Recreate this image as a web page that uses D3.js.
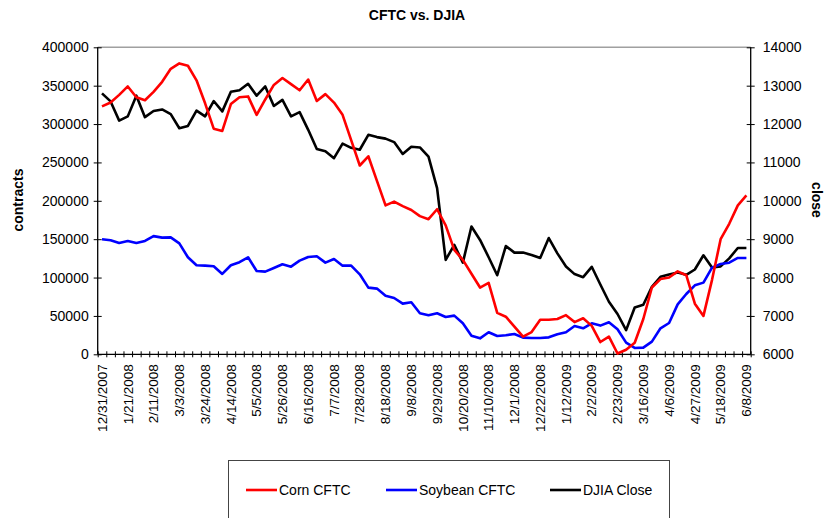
<!DOCTYPE html>
<html>
<head>
<meta charset="utf-8">
<script src="https://cdn.jsdelivr.net/npm/d3@7"></script>
<style>
  html, body { margin: 0; padding: 0; background: #fff; }
  svg { display: block; font-family: "Liberation Sans", Arial, sans-serif; }
</style>
</head>
<body>
<svg id="chart" width="827" height="518"></svg>
<script>
// ---- Data ----
const categories = [
  "12/31/2007","1/7/2008","1/14/2008","1/21/2008","1/28/2008","2/4/2008","2/11/2008","2/18/2008","2/25/2008",
  "3/3/2008","3/10/2008","3/17/2008","3/24/2008","3/31/2008","4/7/2008","4/14/2008","4/21/2008","4/28/2008",
  "5/5/2008","5/12/2008","5/19/2008","5/26/2008","6/2/2008","6/9/2008","6/16/2008","6/23/2008","6/30/2008",
  "7/7/2008","7/14/2008","7/21/2008","7/28/2008","8/4/2008","8/11/2008","8/18/2008","8/25/2008","9/1/2008",
  "9/8/2008","9/15/2008","9/22/2008","9/29/2008","10/6/2008","10/13/2008","10/20/2008","10/27/2008","11/3/2008",
  "11/10/2008","11/17/2008","11/24/2008","12/1/2008","12/8/2008","12/15/2008","12/22/2008","12/29/2008","1/5/2009",
  "1/12/2009","1/19/2009","1/26/2009","2/2/2009","2/9/2009","2/16/2009","2/23/2009","3/2/2009","3/9/2009",
  "3/16/2009","3/23/2009","3/30/2009","4/6/2009","4/13/2009","4/20/2009","4/27/2009","5/4/2009","5/11/2009",
  "5/18/2009","5/25/2009","6/1/2009","6/8/2009"
];

const xTickLabels = [
  "12/31/2007","1/21/2008","2/11/2008","3/3/2008","3/24/2008","4/14/2008","5/5/2008","5/26/2008","6/16/2008",
  "7/7/2008","7/28/2008","8/18/2008","9/8/2008","9/29/2008","10/20/2008","11/10/2008","12/1/2008","12/22/2008",
  "1/12/2009","2/2/2009","2/23/2009","3/16/2009","4/6/2009","4/27/2009","5/18/2009","6/8/2009"
];

const cornCFTC = [
  323000,328000,338000,349000,335000,331000,342000,355000,372000,379000,376000,357000,327000,294000,291000,326000,
  335000,336000,312000,332000,351000,360000,352000,344000,358000,330000,339000,328000,312000,279000,246000,258000,
  226000,194000,199000,193000,188000,180000,176000,189000,168000,136000,123000,105000,87000,93000,54000,49000,
  36000,23000,29000,45000,45000,46000,51000,42000,47000,37000,16000,23000,1000,6000,15000,46000,87000,98000,
  100000,108000,103000,66000,50000,97000,150000,170000,194000,207000
];

const soybeanCFTC = [
  150000,148500,145000,147700,145000,147700,154000,152000,152400,144600,126400,116000,115500,114700,104700,116000,
  120000,126400,108600,107700,112500,117300,114200,122000,126800,127700,119400,124200,115500,115500,104200,86900,
  85600,76400,73400,66000,67800,53400,50800,53400,48600,50400,40400,24300,20800,28700,23900,24800,26500,21700,
  21300,21300,22100,26100,28700,36900,33900,40400,37400,41700,32600,15200,8300,8700,16500,33900,40800,65100,
  78600,89900,93400,112900,117700,119400,125500,125500
];

const djiaClose = [
  12800,12590,12090,12200,12740,12180,12340,12380,12260,11890,11950,12350,12200,12600,12330,12840,
  12880,13050,12740,12980,12470,12630,12200,12310,11850,11350,11290,11110,11490,11380,11330,11720,
  11660,11620,11530,11220,11410,11390,11150,10330,8460,8850,8390,9330,8980,8530,8060,8820,
  8650,8650,8590,8510,9030,8630,8290,8090,8010,8280,7820,7370,7050,6630,7220,7290,7760,8020,
  8080,8130,8070,8210,8580,8260,8290,8500,8770,8770
];

const leftTicks = [0,50000,100000,150000,200000,250000,300000,350000,400000];
const rightTicks = [6000,7000,8000,9000,10000,11000,12000,13000,14000];

const seriesNames = ["Corn CFTC","Soybean CFTC","DJIA Close"];
const seriesColors = ["#FF0000","#0000FF","#000000"];

// ---- Layout ----
const svg = d3.select("#chart");
const X0 = 97.7, X1 = 750.7, YT = 47.3, YB = 354.3;

const x = d3.scaleBand().domain(categories).range([X0, X1]).padding(0);
const xIdx = d3.scaleLinear().domain([0, categories.length]).range([X0, X1]);
const yL = d3.scaleLinear().domain([0, 400000]).range([YB, YT]);
const yR = d3.scaleLinear().domain([6000, 14000]).range([YB, YT]);
const cx = c => x(c) + x.bandwidth() / 2;

// top border line (gray)
svg.append("line").attr("x1", X0).attr("x2", X1).attr("y1", YT).attr("y2", YT)
  .attr("stroke", "#a0a0a0").attr("stroke-width", 1.5);

// Left axis
const gL = svg.append("g").attr("transform", `translate(${X0},0)`)
  .call(d3.axisLeft(yL).tickValues(leftTicks).tickSize(4).tickPadding(6).tickFormat(d3.format("d")));
gL.selectAll(".tick line").attr("x1", -4).attr("x2", 4).attr("stroke", "#000");
gL.select(".domain").attr("stroke", "#000").attr("d", `M0,${YT}V${YB}`).attr("stroke-width", 1.3);
gL.selectAll("text").attr("font-size", 14).attr("fill", "#000").attr("x", -9)
  .attr("font-family", "'Liberation Sans', Arial, sans-serif");

// Right axis
const gR = svg.append("g").attr("transform", `translate(${X1},0)`)
  .call(d3.axisRight(yR).tickValues(rightTicks).tickSize(4).tickPadding(6).tickFormat(d3.format("d")));
gR.selectAll(".tick line").attr("x1", -4).attr("x2", 4).attr("stroke", "#000");
gR.select(".domain").attr("stroke", "#000").attr("d", `M0,${YT}V${YB}`).attr("stroke-width", 1.3);
gR.selectAll("text").attr("font-size", 14).attr("fill", "#000").attr("x", 12)
  .attr("font-family", "'Liberation Sans', Arial, sans-serif");

// Bottom axis: ticks between categories
const gB = svg.append("g").attr("transform", `translate(0,${YB})`)
  .call(d3.axisBottom(xIdx).tickValues(d3.range(categories.length + 1)).tickSize(3).tickFormat(""));
gB.selectAll(".tick line").attr("y1", -3).attr("y2", 3).attr("stroke", "#000");
gB.select(".domain").attr("stroke", "#000").attr("d", `M${X0},0H${X1}`).attr("stroke-width", 1.3);

// Bottom labels
const gBL = svg.append("g").attr("transform", `translate(0,${YB})`)
  .call(d3.axisBottom(x).tickValues(xTickLabels).tickSize(0).tickPadding(0));
gBL.select(".domain").remove();
gBL.selectAll("text")
  .attr("font-size", 13.5).attr("fill", "#000")
  .attr("font-family", "'Liberation Sans', Arial, sans-serif")
  .attr("text-anchor", "end")
  .attr("transform", "rotate(-90)")
  .attr("x", -10).attr("y", 0).attr("dy", "0.35em");

// Lines
const lineL = d3.line().x((d, i) => cx(categories[i])).y(d => yL(d));
const lineR = d3.line().x((d, i) => cx(categories[i])).y(d => yR(d));

svg.append("path").datum(djiaClose).attr("d", lineR).attr("fill", "none")
  .attr("stroke", seriesColors[2]).attr("stroke-width", 2.6).attr("stroke-linejoin", "round");
svg.append("path").datum(soybeanCFTC).attr("d", lineL).attr("fill", "none")
  .attr("stroke", seriesColors[1]).attr("stroke-width", 2.6).attr("stroke-linejoin", "round");
svg.append("path").datum(cornCFTC).attr("d", lineL).attr("fill", "none")
  .attr("stroke", seriesColors[0]).attr("stroke-width", 2.6).attr("stroke-linejoin", "round");

// Title
svg.append("text").attr("x", 417).attr("y", 20).attr("text-anchor", "middle")
  .attr("font-size", 14).attr("font-weight", "bold").text("CFTC vs. DJIA");

// Axis titles
svg.append("text").attr("transform", "translate(23,200) rotate(-90)").attr("text-anchor", "middle")
  .attr("font-size", 14).attr("font-weight", "bold").text("contracts");
svg.append("text").attr("transform", "translate(812,200) rotate(90)").attr("text-anchor", "middle")
  .attr("font-size", 14).attr("font-weight", "bold").text("close");

// Legend
svg.append("rect").attr("x", 228.5).attr("y", 460.5).attr("width", 441).attr("height", 80)
  .attr("fill", "#fff").attr("stroke", "#444").attr("stroke-width", 1);
const legX = [246, 386, 550];
const leg = svg.append("g");
seriesNames.forEach((n, i) => {
  leg.append("line").attr("x1", legX[i]).attr("x2", legX[i] + 31).attr("y1", 490).attr("y2", 490)
    .attr("stroke", seriesColors[i]).attr("stroke-width", 2.6);
  leg.append("text").attr("x", legX[i] + 33).attr("y", 490).attr("dy", "0.35em")
    .attr("font-size", 14).text(n);
});
</script>
</body>
</html>
